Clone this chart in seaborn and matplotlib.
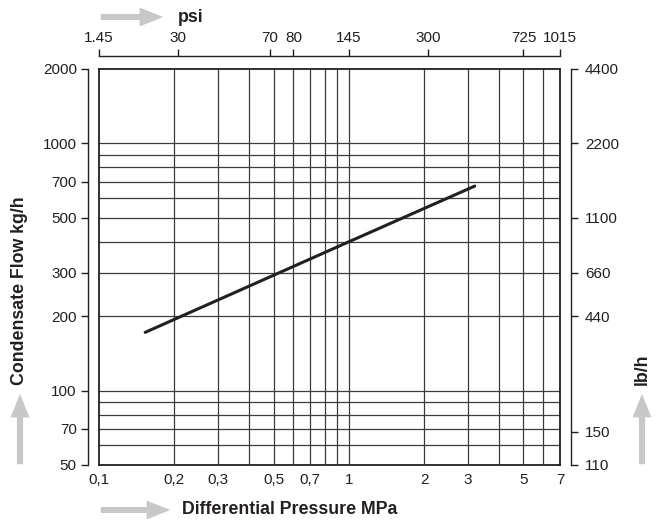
import numpy as np
import pandas as pd
import seaborn as sns
import matplotlib
matplotlib.use("Agg")
import matplotlib.pyplot as plt
from matplotlib.ticker import FixedLocator, FixedFormatter, NullLocator

# flow curve (MPa, kg/h)
pressure_mpa = [0.153, 1.0, 3.19]
flow_kgh = [172, 400, 672]

# axis ticks
x_ticks = [0.1, 0.2, 0.3, 0.5, 0.7, 1, 2, 3, 5, 7]
x_labels = ["0,1", "0,2", "0,3", "0,5", "0,7", "1", "2", "3", "5", "7"]
y_ticks = [2000, 1000, 700, 500, 300, 200, 100, 70, 50]
y_labels = ["2000", "1000", "700", "500", "300", "200", "100", "70", "50"]
psi_labels = ["1.45", "30", "70", "80", "145", "300", "725", "1015"]
psi_pos_mpa = [0.1, 0.207, 0.483, 0.6, 1.0, 2.07, 5.0, 7.0]
lbh_labels = ["4400", "2200", "1100", "660", "440", "150", "110"]
lbh_pos_kgh = [2000, 1000, 500, 300, 200, 68, 50]

# grid lines
grid_x = [0.2, 0.3, 0.4, 0.5, 0.6, 0.7, 0.8, 0.9, 1, 2, 3, 4, 5, 6]
grid_y = [60, 70, 80, 90, 100, 200, 300, 400, 500, 600, 700, 800, 900, 1000]

sns.set_style("white")
plt.rcParams['font.family'] = ['Liberation Sans', 'DejaVu Sans']
ink = "#231f20"
arrow_grey = "#c8c8c8"
tick_fs = 11

fig = plt.figure(figsize=(6.65, 5.29), dpi=100)
ax = fig.add_axes([99 / 665, 64 / 529, 461 / 665, 396 / 529])

ax.set_xscale("log")
ax.set_yscale("log")
ax.set_xlim(0.1, 7)
ax.set_ylim(50, 2000)

for gx in grid_x:
    ax.axvline(gx, color="#3c3c3c", lw=0.9, zorder=1)
for gy in grid_y:
    ax.axhline(gy, color="#3c3c3c", lw=0.9, zorder=1)

df = pd.DataFrame({"MPa": pressure_mpa, "kg/h": flow_kgh})
sns.lineplot(data=df, x="MPa", y="kg/h", ax=ax, color=ink, lw=2.2, zorder=3)

for s in ax.spines.values():
    s.set_color(ink)
    s.set_linewidth(1.3)
ax.xaxis.set_major_locator(FixedLocator(x_ticks))
ax.xaxis.set_major_formatter(FixedFormatter(x_labels))
ax.xaxis.set_minor_locator(NullLocator())
ax.yaxis.set_major_locator(NullLocator())
ax.yaxis.set_minor_locator(NullLocator())
ax.tick_params(axis="x", length=0, pad=6, labelsize=tick_fs, labelcolor=ink)
ax.set_xlabel("")
ax.set_ylabel("")

# left kg/h axis (offset)
axl = ax.twinx()
axl.set_yscale("log")
axl.set_ylim(50, 2000)
axl.yaxis.tick_left()
axl.yaxis.set_major_locator(FixedLocator(y_ticks))
axl.yaxis.set_major_formatter(FixedFormatter(y_labels))
axl.yaxis.set_minor_locator(NullLocator())
for k, s in axl.spines.items():
    s.set_visible(k == "left")
axl.spines["left"].set_position(("outward", 8))
axl.spines["left"].set_color(ink)
axl.spines["left"].set_linewidth(1.0)
axl.tick_params(axis="y", direction="out", length=5, width=1.0, color=ink,
                labelsize=tick_fs, labelcolor=ink, pad=3)

# right lb/h axis (offset)
axr = ax.twinx()
axr.set_yscale("log")
axr.set_ylim(50, 2000)
axr.yaxis.set_major_locator(FixedLocator(lbh_pos_kgh))
axr.yaxis.set_major_formatter(FixedFormatter(lbh_labels))
axr.yaxis.set_minor_locator(NullLocator())
for k, s in axr.spines.items():
    s.set_visible(k == "right")
axr.spines["right"].set_position(("outward", 8))
axr.spines["right"].set_color(ink)
axr.spines["right"].set_linewidth(1.0)
axr.tick_params(axis="y", direction="out", length=5, width=1.0, color=ink,
                labelsize=tick_fs, labelcolor=ink, pad=5)

# top psi axis (offset)
axt = ax.twiny()
axt.set_xscale("log")
axt.set_xlim(0.1, 7)
axt.xaxis.set_major_locator(FixedLocator(psi_pos_mpa))
axt.xaxis.set_major_formatter(FixedFormatter(psi_labels))
axt.xaxis.set_minor_locator(NullLocator())
for k, s in axt.spines.items():
    s.set_visible(k == "top")
axt.spines["top"].set_position(("outward", 9))
axt.spines["top"].set_color(ink)
axt.spines["top"].set_linewidth(1.0)
axt.tick_params(axis="x", direction="out", length=5, width=1.0, color=ink,
                labelsize=tick_fs, labelcolor=ink, pad=3)


def grey_arrow(x0, y0, x1, y1):
    fig.patches.append(matplotlib.patches.FancyArrowPatch(
        (x0, y0), (x1, y1), transform=None,
        arrowstyle="simple,head_length=1.0,head_width=0.8,tail_width=0.26",
        mutation_scale=17, color=arrow_grey, lw=0))


bold = dict(fontweight="bold", color=ink, fontsize=12.8)
grey_arrow(98, 512, 166, 512)
fig.text(178 / 665, 512 / 529, "psi", ha="left", va="center", **bold)
grey_arrow(98, 19, 173, 19)
fig.text(182 / 665, 19 / 529, "Differential Pressure MPa", ha="left", va="center", **bold)
grey_arrow(20, 62, 20, 138)
fig.text(20 / 665, 238 / 529, "Condensate Flow kg/h", rotation=90,
         ha="center", va="center", **bold)
grey_arrow(642, 62, 642, 138)
fig.text(642 / 665, 160 / 529, "lb/h", rotation=90, ha="center", va="center", **bold)

fig.savefig("out.png", dpi=100)
